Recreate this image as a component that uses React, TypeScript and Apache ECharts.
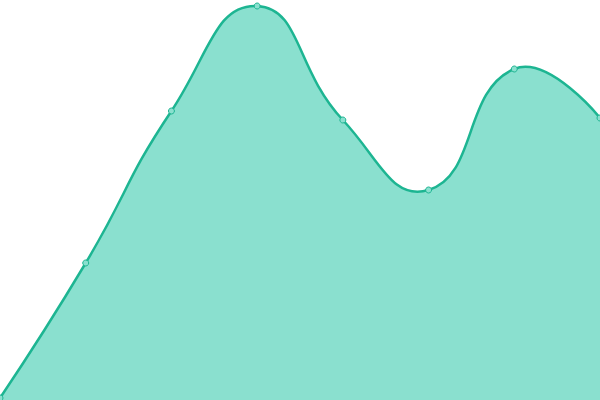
import React, { useEffect, useRef } from "react";
import * as echarts from "echarts";

const categories = ["1", "2", "3", "4", "5", "6", "7", "8"];
const values = [2, 137, 289, 394, 280, 210, 331, 282];

const LINE = "#1db592";
const FILL = "#8ae0cf";
const SMOOTH = 0.5;

type P = [number, number];

// classic (unclamped) bezier smoothing of a polyline
function controlPoints(points: P[], smooth: number): P[] {
  const cps: P[] = [];
  const n = points.length;
  for (let i = 0; i < n; i++) {
    const p = points[i];
    if (i === 0 || i === n - 1) {
      cps.push([p[0], p[1]]);
      continue;
    }
    const prev = points[i - 1];
    const next = points[i + 1];
    const vx = (next[0] - prev[0]) * smooth;
    const vy = (next[1] - prev[1]) * smooth;
    let d0 = Math.hypot(p[0] - prev[0], p[1] - prev[1]);
    let d1 = Math.hypot(p[0] - next[0], p[1] - next[1]);
    const sum = d0 + d1;
    if (sum !== 0) {
      d0 /= sum;
      d1 /= sum;
    }
    cps.push([p[0] - vx * d0, p[1] - vy * d0]);
    cps.push([p[0] + vx * d1, p[1] + vy * d1]);
  }
  return cps;
}

function curvePath(points: P[]): string {
  const cps = controlPoints(points, SMOOTH);
  let d = `M${points[0][0]},${points[0][1]}`;
  for (let i = 0; i < points.length - 1; i++) {
    const a = cps[2 * i];
    const b = cps[2 * i + 1];
    const p = points[i + 1];
    d += ` C${a[0]},${a[1]} ${b[0]},${b[1]} ${p[0]},${p[1]}`;
  }
  return d;
}

export default function App() {
  const ref = useRef<HTMLDivElement>(null);
  useEffect(() => {
    if (!ref.current) return;
    const chart = echarts.init(ref.current, null, { renderer: "svg" });
    const seriesData = values.map((v, i) => [i, v]);
    chart.setOption({
      animation: false,
      grid: { left: 0, right: 0, top: 0, bottom: 0 },
      xAxis: { type: "category", data: categories, boundaryGap: false, show: false },
      yAxis: { type: "value", min: 0, max: 400, show: false },
      series: [
        {
          type: "custom",
          data: seriesData,
          clip: false,
          z: 1,
          renderItem: (params: any, api: any) => {
            if (params.dataIndex !== 0) return null;
            const pts: P[] = values.map((v, i) => api.coord([i, v]) as P);
            const line = curvePath(pts);
            const base0 = api.coord([0, 0]);
            const baseN = api.coord([values.length - 1, 0]);
            const area =
              line +
              ` L${baseN[0]},${baseN[1]} L${base0[0]},${base0[1]} Z`;
            return {
              type: "group",
              children: [
                {
                  type: "path",
                  shape: { pathData: area },
                  style: { fill: FILL, stroke: null },
                },
                {
                  type: "path",
                  shape: { pathData: line },
                  style: { fill: null, stroke: LINE, lineWidth: 2.5 },
                },
              ],
            };
          },
        },
        {
          type: "scatter",
          data: seriesData,
          z: 3,
          symbol: "circle",
          symbolSize: 6,
          itemStyle: { color: FILL, borderColor: LINE, borderWidth: 1, opacity: 1 },
        },
      ],
    });
    return () => chart.dispose();
  }, []);
  return (
    <div
      ref={ref}
      style={{ position: "fixed", left: 0, top: 0, width: 600, height: 400, background: "#fff" }}
    />
  );
}
